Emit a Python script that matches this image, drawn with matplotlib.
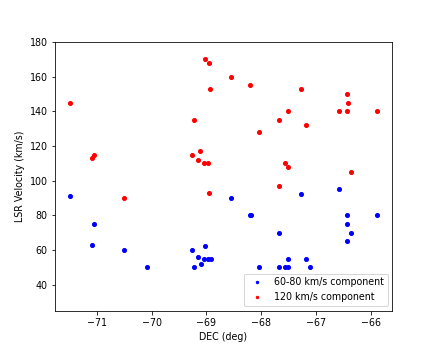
import numpy as np
import matplotlib.pyplot as plt

# componente 60-80 km/s
dec_lo = [-71.49, -71.05, -71.08, -70.50, -70.08, -69.27, -69.03, -69.15, -69.10,
          -69.22, -69.05, -68.97, -68.91, -68.55, -68.20, -67.27, -66.59, -68.19,
          -66.43, -65.89, -66.43, -66.37, -67.67, -66.43, -67.52, -67.19, -68.04,
          -67.67, -67.57, -67.52, -67.12]
vel_lo = [91, 75, 63, 60, 50, 60, 62, 56, 52,
          50, 55, 55, 55, 90, 80, 92, 95, 80,
          80, 80, 75, 70, 70, 65, 55, 55, 50,
          50, 50, 50, 50]

# componente 120 km/s
dec_hi = [-71.49, -69.03, -68.96, -68.55, -68.20, -68.93, -69.22, -71.05, -71.08,
          -69.11, -69.27, -69.15, -69.05, -68.97, -67.27, -66.43, -66.42, -67.52,
          -66.59, -66.43, -65.89, -67.67, -67.19, -68.04, -67.57, -67.52, -66.37,
          -70.50, -68.96, -67.67]
vel_hi = [145, 170, 168, 160, 155, 153, 135, 115, 113,
          117, 115, 112, 110, 110, 153, 150, 145, 140,
          140, 140, 140, 135, 132, 128, 110, 108, 105,
          90, 93, 97]

plt.rcParams['font.size'] = 9.5

plt.figure(figsize=(436/72, 349/72), dpi=72)
plt.plot(dec_lo, vel_lo, 'bo', markersize=4, label='60-80 km/s component')
plt.plot(dec_hi, vel_hi, 'ro', markersize=4, label='120 km/s component')
plt.ylim(25, 180)
plt.xlabel('DEC (deg)')
plt.ylabel('LSR Velocity (km/s)')
plt.legend(loc='lower right', markerscale=0.6)
plt.savefig('out.png', dpi=72)
